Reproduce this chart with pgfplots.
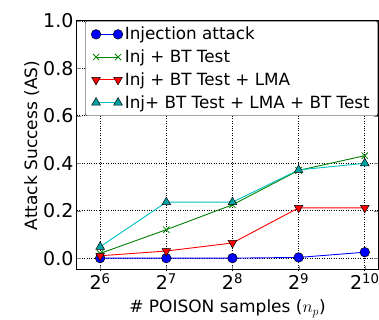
\documentclass[border=0pt]{standalone}
\usepackage{pgfplots}
\pgfplotsset{compat=1.18}
\usepackage{fontspec}
\setmainfont{DejaVu Sans}
\definecolor{mb}{rgb}{0,0,1}
\definecolor{mg}{rgb}{0,0.5,0}
\definecolor{mr}{rgb}{1,0,0}
\definecolor{mc}{rgb}{0,0.75,0.75}
\begin{document}
\begin{tikzpicture}[x=1pt,y=1pt]
\begin{axis}[
  at={(0,0)}, anchor=south west,
  scale only axis, width=301pt, height=249pt,
  xmin=5.65, xmax=10.2, ymin=-0.05, ymax=1.0,
  xtick={6,7,8,9,10},
  xticklabels={2\textsuperscript{6},2\textsuperscript{7},2\textsuperscript{8},2\textsuperscript{9},2\textsuperscript{10}},
  ytick={0,0.2,0.4,0.6,0.8,1.0},
  yticklabel style={/pgf/number format/.cd, fixed, fixed zerofill, precision=1, assume math mode=true},
  tick label style={font=\fontsize{19}{22}\selectfont},
  xlabel={\# POISON samples ($n_p$)},
  ylabel={Attack Success (AS)},
  label style={font=\fontsize{17}{20}\selectfont},
  xlabel style={yshift=-3pt},
  ylabel style={yshift=-3pt},
  grid=major,
  major grid style={black, dotted, line width=0.8pt},
  tick align=inside, tick pos=both,
  major tick length=4pt,
  axis line style={black, line width=1pt},
  every axis plot/.append style={line width=0.9pt},
  legend style={at={(rel axis cs:1,1)}, anchor=north east, font=\fontsize{16.8}{20}\selectfont,
    draw=black, rounded corners=2pt, row sep=4.5pt, inner xsep=6pt, inner ysep=4pt,
    /tikz/every even column/.append style={column sep=6pt}},
  legend cell align=left,
  legend image code/.code={\draw[#1] plot coordinates {(0pt,0pt) (22pt,0pt)};},
]
\addplot[color=mb, mark=*, mark size=4.8pt, mark options={fill=mb, draw=black, line width=0.5pt}]
  coordinates {(6,0) (7,0) (8,0) (9,0.003) (10,0.025)};
\addlegendentry{Injection attack}
\addplot[color=mg, mark=x, mark size=4.5pt, mark options={draw=mg, line width=0.8pt}]
  coordinates {(6,0.02) (7,0.12) (8,0.225) (9,0.37) (10,0.432)};
\addlegendentry{Inj + BT Test}
\addplot[color=mr, mark=triangle*, mark size=5pt, mark options={fill=mr, draw=black, line width=0.5pt, rotate=180}]
  coordinates {(6,0.01) (7,0.03) (8,0.064) (9,0.212) (10,0.212)};
\addlegendentry{Inj + BT Test + LMA}
\addplot[color=mc, mark=triangle*, mark size=5pt, mark options={fill=mc!85!black, draw=black, line width=0.5pt}]
  coordinates {(6,0.048) (7,0.236) (8,0.236) (9,0.372) (10,0.4)};
\addlegendentry{Inj+ BT Test + LMA + BT Test}
\end{axis}
\pgfresetboundingbox
\path (-77,-50) rectangle (302,270);
\end{tikzpicture}
\end{document}
